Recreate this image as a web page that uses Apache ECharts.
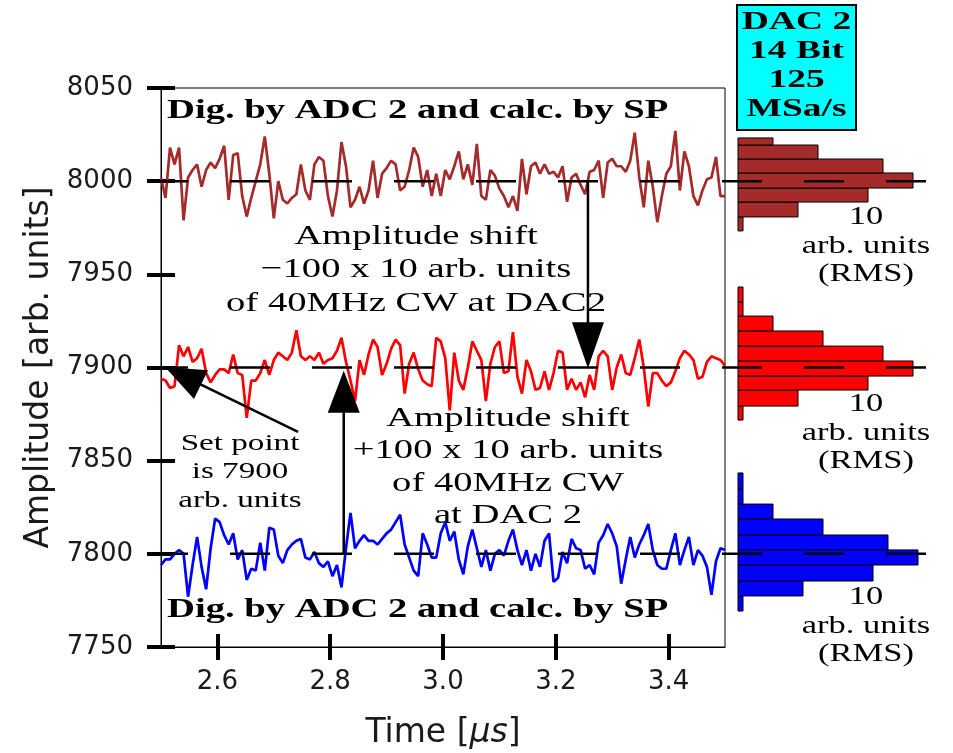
<!DOCTYPE html>
<html><head><meta charset="utf-8">
<script src="https://cdn.jsdelivr.net/npm/echarts@6/dist/echarts.min.js"></script>
<style>html,body{margin:0;padding:0;background:#fff}#c{width:953px;height:753px}</style>
</head><body><div id="c"></div>
<script>
// ---------------- data ----------------
const sampleStart = 2.5;      // µs
const samplePeriod = 0.008;   // µs (125 MSa/s)

const brownVals = [8002, 7991, 8018, 8009, 8018, 7979, 8002, 8006, 8009, 7997,
 8006, 8010, 8007, 8012, 8019, 7990, 8014, 8015, 7992, 7981,
 7991, 8000, 8009, 8024, 8004, 7980, 8000, 7990, 7988, 7991,
 7993, 8009, 7995, 7990, 8009, 8013, 8011, 7992, 7981, 7995,
 8021, 8008, 7986, 7990, 7997, 7988, 7995, 8011, 7991, 8004,
 8007, 8011, 8009, 7995, 7997, 8006, 8018, 8013, 7997, 8006,
 7992, 8004, 7992, 8006, 8001, 8008, 8016, 8001, 8009, 7998,
 8020, 7992, 7990, 8006, 8003, 7996, 7992, 7986, 7992, 7984,
 8012, 7993, 8008, 8010, 8004, 8009, 8004, 8005, 8002, 8008,
 7989, 8002, 8004, 7998, 7993, 8005, 8006, 8011, 7991, 8010,
 8012, 8008, 8008, 8005, 8011, 8026, 8002, 7986, 8011, 7997,
 7978, 7992, 8004, 8008, 8027, 7995, 8016, 8008, 7992, 7987,
 7995, 8001, 8002, 8013, 7992, 7992];

const redVals = [7894, 7893, 7889, 7890, 7912, 7906, 7911, 7903, 7905, 7910,
 7897, 7892, 7896, 7899, 7899, 7897, 7907, 7897, 7896, 7873,
 7893, 7893, 7897, 7904, 7896, 7904, 7908, 7906, 7904, 7908,
 7920, 7906, 7904, 7906, 7904, 7908, 7902, 7904, 7905, 7909,
 7916, 7903, 7893, 7882, 7904, 7896, 7907, 7915, 7911, 7896,
 7902, 7910, 7915, 7912, 7886, 7902, 7908, 7899, 7893, 7891,
 7890, 7916, 7914, 7905, 7877, 7908, 7893, 7888, 7900, 7914,
 7909, 7904, 7882, 7902, 7911, 7914, 7897, 7898, 7919, 7895,
 7886, 7904, 7898, 7888, 7889, 7898, 7888, 7897, 7909, 7908,
 7888, 7894, 7888, 7892, 7884, 7896, 7888, 7906, 7909, 7906,
 7888, 7900, 7907, 7897, 7896, 7905, 7915, 7900, 7879, 7897,
 7897, 7893, 7890, 7892, 7898, 7905, 7909, 7907, 7904, 7894,
 7895, 7903, 7906, 7905, 7904, 7901];

const blueVals = [7794, 7797, 7797, 7800, 7802, 7800, 7777, 7794, 7809, 7793,
 7781, 7803, 7819, 7817, 7810, 7805, 7811, 7797, 7802, 7786,
 7792, 7791, 7806, 7791, 7814, 7813, 7799, 7795, 7802, 7805,
 7807, 7808, 7798, 7797, 7801, 7795, 7793, 7796, 7788, 7794,
 7782, 7803, 7822, 7803, 7807, 7810, 7807, 7807, 7805, 7808,
 7811, 7813, 7817, 7821, 7805, 7798, 7791, 7788, 7811, 7805,
 7798, 7798, 7811, 7817, 7807, 7812, 7797, 7789, 7804, 7813,
 7803, 7793, 7802, 7791, 7800, 7802, 7799, 7807, 7813, 7802,
 7794, 7802, 7791, 7800, 7793, 7807, 7811, 7785, 7787, 7801,
 7795, 7808, 7803, 7802, 7792, 7794, 7789, 7806, 7810, 7816,
 7811, 7804, 7784, 7797, 7809, 7798, 7805, 7810, 7816, 7802,
 7794, 7792, 7792, 7802, 7811, 7794, 7802, 7809, 7794, 7802,
 7799, 7793, 7778, 7796, 7803, 7802];

// histograms (bin edges ascending, counts per bin)
const brownEdges  = [7973.3, 7980.8, 7988.8, 7996.3, 8004.4, 8011.9, 8019.4, 8023.2];
const brownCounts = [1, 12, 26, 35, 29, 16, 7];
const redEdges    = [7871.8, 7879.3, 7887.9, 7895.4, 7903.5, 7911.5, 7919.6, 7927.6, 7935.2, 7943.2];
const redCounts   = [1, 12, 26, 35, 29, 17, 7, 1, 1];
const blueEdges   = [7769.3, 7777.4, 7785.4, 7794.0, 7802.1, 7810.1, 7818.7, 7826.7, 7834.8, 7843.4];
const blueCounts  = [1, 13, 27, 36, 30, 17, 7, 1, 1];

const setPoints = [8000, 7900, 7800];
const xTicks = [2.6, 2.8, 3.0, 3.2, 3.4];
const yTicks = [7750, 7800, 7850, 7900, 7950, 8000, 8050];

// arrows (data coordinates)
const arrowDown  = {x: 3.257, from: 8000, head: 7912};
const arrowUp    = {x: 2.824, from: 7800, head: 7887};
const arrowSetPt = {from: [2.743, 7865.4], head: [2.539, 7895.5]};

// ---------------- chart ----------------
const SERIF = '"Liberation Serif", "Times New Roman", serif';
const SANS = '"DejaVu Sans", sans-serif';
const times = brownVals.map((_, i) => +(sampleStart + i * samplePeriod).toFixed(4));
const pairs = vals => vals.map((v, i) => [times[i], v]);
const hist = (edges, counts) => counts.map((c, i) => [edges[i], edges[i + 1], c]);

function histRender(color) {
  return function (params, api) {
    const lo = api.value(0), hi = api.value(1), n = api.value(2);
    const p0 = api.coord([0, hi]);
    const p1 = api.coord([n, lo]);
    return {type: 'rect',
      shape: {x: p0[0], y: p0[1], width: p1[0] - p0[0], height: p1[1] - p0[1]},
      style: {fill: color, stroke: '#000', lineWidth: 1}};
  };
}

const chart = echarts.init(document.getElementById('c'), null, {renderer: 'canvas'});

const K = 1.38; // horizontal stretch of serif annotation text
function txt(x, y, text, size, opts) {
  opts = opts || {};
  return {type: 'text', x: x, y: y, scaleX: opts.k || K, z: 100,
    style: {text: text, fill: '#000',
      font: (opts.bold ? 'bold ' : '') + size + 'px ' + SERIF,
      textAlign: opts.align || 'center', textVerticalAlign: 'middle',
      lineHeight: opts.lh || size * 1.2}};
}

const lineSeries = (vals, color) => ({
  type: 'line', xAxisIndex: 0, yAxisIndex: 0, data: pairs(vals),
  showSymbol: false, symbol: 'none', silent: true, z: 3,
  lineStyle: {color: color, width: 2.7}
});

const tickStyle = {color: '#000', width: 4};
const gridBase = {outerBoundsMode: 'none', containLabel: false};

const option = {
  backgroundColor: '#fff',
  animation: false,
  grid: [
    Object.assign({left: 161, top: 88, width: 564, height: 559, show: true, borderColor: '#000', borderWidth: 1, backgroundColor: 'transparent'}, gridBase),
    Object.assign({left: 738, top: 88, width: 200, height: 559}, gridBase),
    Object.assign({left: 148, top: 88, width: 790, height: 559}, gridBase)
  ],
  xAxis: [
    {gridIndex: 0, type: 'value', position: 'bottom', min: 2.5, max: 3.5,
      axisLine: {show: true, onZero: false, lineStyle: {color: '#000', width: 1}},
      axisTick: {show: true, customValues: xTicks, length: 13, lineStyle: tickStyle},
      axisLabel: {customValues: xTicks, formatter: v => v.toFixed(1), fontFamily: SANS, fontSize: 26, color: '#1a1a1a', margin: 22},
      splitLine: {show: false},
      name: 'Time [{it|μs}]', nameLocation: 'middle', nameGap: 70,
      nameTextStyle: {fontFamily: SANS, fontSize: 33, color: '#1a1a1a',
        rich: {it: {fontFamily: SANS, fontSize: 33, fontStyle: 'italic', color: '#1a1a1a'}}}},
    {gridIndex: 0, type: 'value', position: 'bottom', offset: 0, min: 2.5, max: 3.5,
      axisLine: {show: false, onZero: false},
      axisTick: {show: true, inside: true, customValues: xTicks, length: 13, lineStyle: tickStyle},
      axisLabel: {show: false}, splitLine: {show: false}},
    {gridIndex: 1, type: 'value', min: 0, max: 40, show: false},
    {gridIndex: 2, type: 'value', min: 0, max: 1, show: false}
  ],
  yAxis: [
    {gridIndex: 0, type: 'value', position: 'left', min: yTicks[0], max: yTicks[yTicks.length - 1], interval: 50,
      axisLine: {show: true, onZero: false, lineStyle: {color: '#000', width: 1}},
      axisTick: {show: true, length: 14, lineStyle: tickStyle},
      axisLabel: {formatter: v => String(v), fontFamily: SANS, fontSize: 26, color: '#1a1a1a', margin: 28},
      splitLine: {show: false},
      name: 'Amplitude [arb. units]', nameLocation: 'middle', nameGap: 104,
      nameTextStyle: {fontFamily: SANS, fontSize: 33, color: '#1a1a1a'}},
    {gridIndex: 0, type: 'value', position: 'left', offset: 0, min: yTicks[0], max: yTicks[yTicks.length - 1], interval: 50,
      axisLine: {show: false, onZero: false},
      axisTick: {show: true, inside: true, length: 14, lineStyle: tickStyle},
      axisLabel: {show: false}, splitLine: {show: false}},
    {gridIndex: 1, type: 'value', min: yTicks[0], max: yTicks[yTicks.length - 1], show: false},
    {gridIndex: 2, type: 'value', min: yTicks[0], max: yTicks[yTicks.length - 1], show: false}
  ],
  series: [
    lineSeries(brownVals, '#a52a2a'),
    lineSeries(redVals, '#ff0000'),
    lineSeries(blueVals, '#0000ff'),
    {type: 'custom', xAxisIndex: 2, yAxisIndex: 2, renderItem: histRender('#a52a2a'), data: hist(brownEdges, brownCounts), encode: {x: 2, y: [0, 1]}, silent: true, z: 2},
    {type: 'custom', xAxisIndex: 2, yAxisIndex: 2, renderItem: histRender('#ff0000'), data: hist(redEdges, redCounts), encode: {x: 2, y: [0, 1]}, silent: true, z: 2},
    {type: 'custom', xAxisIndex: 2, yAxisIndex: 2, renderItem: histRender('#0000ff'), data: hist(blueEdges, blueCounts), encode: {x: 2, y: [0, 1]}, silent: true, z: 2},
    ...setPoints.map(v => ({type: 'line', xAxisIndex: 3, yAxisIndex: 3, data: [[0, v], [1, v]],
      showSymbol: false, symbol: 'none', silent: true, z: 5,
      lineStyle: {color: '#000', width: 2.5, type: [40, 42]}})),
    // arrow shafts
    {type: 'line', xAxisIndex: 0, yAxisIndex: 0, data: [[arrowDown.x, arrowDown.from], [arrowDown.x, arrowDown.head]], showSymbol: false, symbol: 'none', silent: true, z: 6, lineStyle: {color: '#000', width: 2.5}},
    {type: 'line', xAxisIndex: 0, yAxisIndex: 0, data: [[arrowUp.x, arrowUp.from], [arrowUp.x, arrowUp.head]], showSymbol: false, symbol: 'none', silent: true, z: 6, lineStyle: {color: '#000', width: 2.5}},
    {type: 'line', xAxisIndex: 0, yAxisIndex: 0, data: [arrowSetPt.from, arrowSetPt.head], showSymbol: false, symbol: 'none', silent: true, z: 6, lineStyle: {color: '#000', width: 2.5}},
    // arrow heads
    {type: 'scatter', xAxisIndex: 0, yAxisIndex: 0, silent: true, z: 7,
      data: [{value: [arrowDown.x, arrowDown.head], symbolSize: [32, 46], symbolRotate: 180},
             {value: [arrowUp.x, arrowUp.head], symbolSize: [32, 42], symbolRotate: 0},
             {value: arrowSetPt.head, symbolSize: [32, 40], symbolRotate: 64}],
      symbol: 'triangle', itemStyle: {color: '#000', opacity: 1}}
  ],
  graphic: [
    txt(167, 111, 'Dig. by ADC 2 and calc. by SP', 28, {bold: true, align: 'left'}),
    txt(167, 610, 'Dig. by ADC 2 and calc. by SP', 28, {bold: true, align: 'left'}),
    txt(416, 270, 'Amplitude shift\n\u2212100 x 10 arb. units\nof 40MHz CW at DAC2', 28, {lh: 33.5}),
    txt(508, 467, 'Amplitude shift\n+100 x 10 arb. units\nof 40MHz CW\nat DAC 2', 28, {lh: 32.3}),
    txt(240, 472, 'Set point\nis 7900\narb. units', 24, {lh: 28.5}),
    txt(866, 246, '10\narb. units\n(RMS)', 25, {lh: 28.5}),
    txt(866, 433, '10\narb. units\n(RMS)', 25, {lh: 28.5}),
    txt(866, 626, '10\narb. units\n(RMS)', 25, {lh: 28.5}),
    {type: 'rect', z: 100, shape: {x: 737, y: 5, width: 119, height: 125}, style: {fill: '#00ffff', stroke: '#000', lineWidth: 2}},
    Object.assign(txt(796.5, 66, 'DAC 2\n14 Bit\n125\nMSa/s', 25, {bold: true, lh: 29, k: 1.5}), {z: 101})
  ]
};
chart.setOption(option);
</script></body></html>
